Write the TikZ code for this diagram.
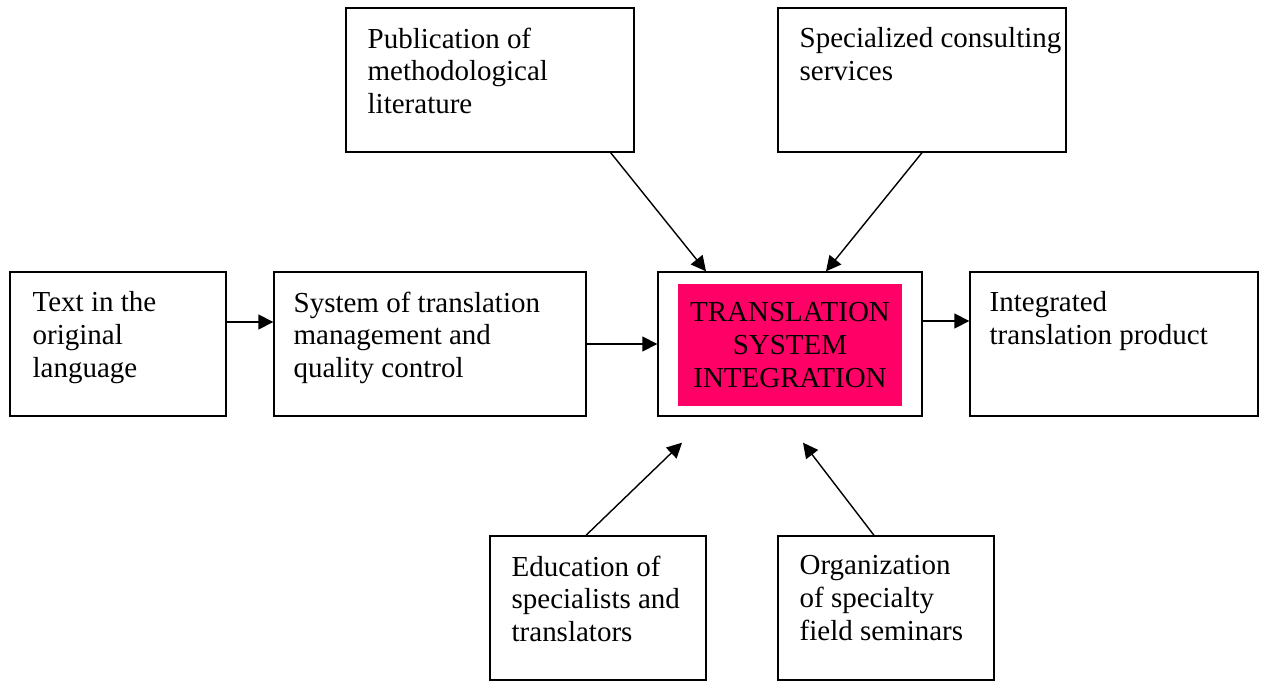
\documentclass[tikz,border=0pt]{standalone}
\usepackage{fontspec}
\setmainfont{Liberation Serif}
\usepackage{tikz}
\usetikzlibrary{
  positioning,
  calc,
  arrows.meta
}
\definecolor{hotpink}{HTML}{FF0066}

\begin{document}
\begin{tikzpicture}[
      x=0.02cm, y=-0.02cm,
      box/.style={rectangle, draw, line width=0.8pt, minimum height=2.88cm, inner sep=0pt},
      boxtext/.style={anchor=north west, inner sep=0pt, align=left, font=\fontsize{16.5}{18.7}\selectfont},
      core/.style={rectangle, fill=hotpink, minimum width=4.48cm, minimum height=2.44cm, align=center, inner sep=0pt, font=\fontsize{16.5}{18.7}\selectfont},
      arrow/.style={-{Triangle[length=0.3cm, width=0.3cm]}, line width=0.8pt}
    ]
      \useasboundingbox (0,0) rectangle (1262,682);

      % Boxes
      \node[box, minimum width=5.76cm] (pub) at (490,80) {};
      \node[box, minimum width=5.76cm] (spec) at (922,80) {};
      \node[box, minimum width=4.32cm] (src) at (118,344) {};
      \node[box, minimum width=6.24cm] (mgmt) at (430,344) {};
      \node[box, minimum width=5.28cm] (integ) at (790,344) {};
      \node[box, minimum width=5.76cm] (product) at (1114,344) {};
      \node[box, minimum width=4.32cm] (edu) at (598,608) {};
      \node[box, minimum width=4.32cm] (sem) at (886,608) {};

      % Texts
      \node[boxtext] (pubtext) at ([shift={(0.44cm,-0.4cm)}]pub.north west) {Publication of\\methodological\\literature};
      \node[boxtext] (spectext) at ([shift={(0.44cm,-0.4cm)}]spec.north west) {Specialized consulting\\services};
      \node[boxtext] (srctext) at ([shift={(0.46cm,-0.4cm)}]src.north west) {Text in the\\original\\language};
      \node[boxtext] (mgmttext) at ([shift={(0.4cm,-0.4cm)}]mgmt.north west) {System of translation\\management and\\quality control};
      \node[boxtext] (producttext) at ([shift={(0.4cm,-0.4cm)}]product.north west) {Integrated\\translation product};
      \node[boxtext] (edutext) at ([shift={(0.44cm,-0.4cm)}]edu.north west) {Education of\\specialists and\\translators};
      \node[boxtext] (semtext) at ([shift={(0.44cm,-0.4cm)}]sem.north west) {Organization\\of specialty\\field seminars};
      \node[core] (coretext) at (790,345) {TRANSLATION\\SYSTEM\\INTEGRATION};

      % Arrows
      \draw[arrow] ([yshift=0.44cm]src.east) -- ([yshift=0.44cm]mgmt.west);
      \draw[arrow] (mgmt.east) -- (integ.west);
      \draw[arrow] ([yshift=0.46cm]integ.east) -- ([yshift=0.46cm]product.west);
      \draw[arrow] ([xshift=-0.48cm]pub.south east) -- ([xshift=-1.68cm]integ.north);
      \draw[arrow] (spec.south) -- ([xshift=0.72cm]integ.north);
      \draw[arrow] ([xshift=-0.24cm]edu.north) -- ([shift={(-2.16cm,-0.52cm)}]integ.south);
      \draw[arrow] ([xshift=-0.24cm]sem.north) -- ([shift={(0.26cm,-0.52cm)}]integ.south);
    \end{tikzpicture}
\end{document}
